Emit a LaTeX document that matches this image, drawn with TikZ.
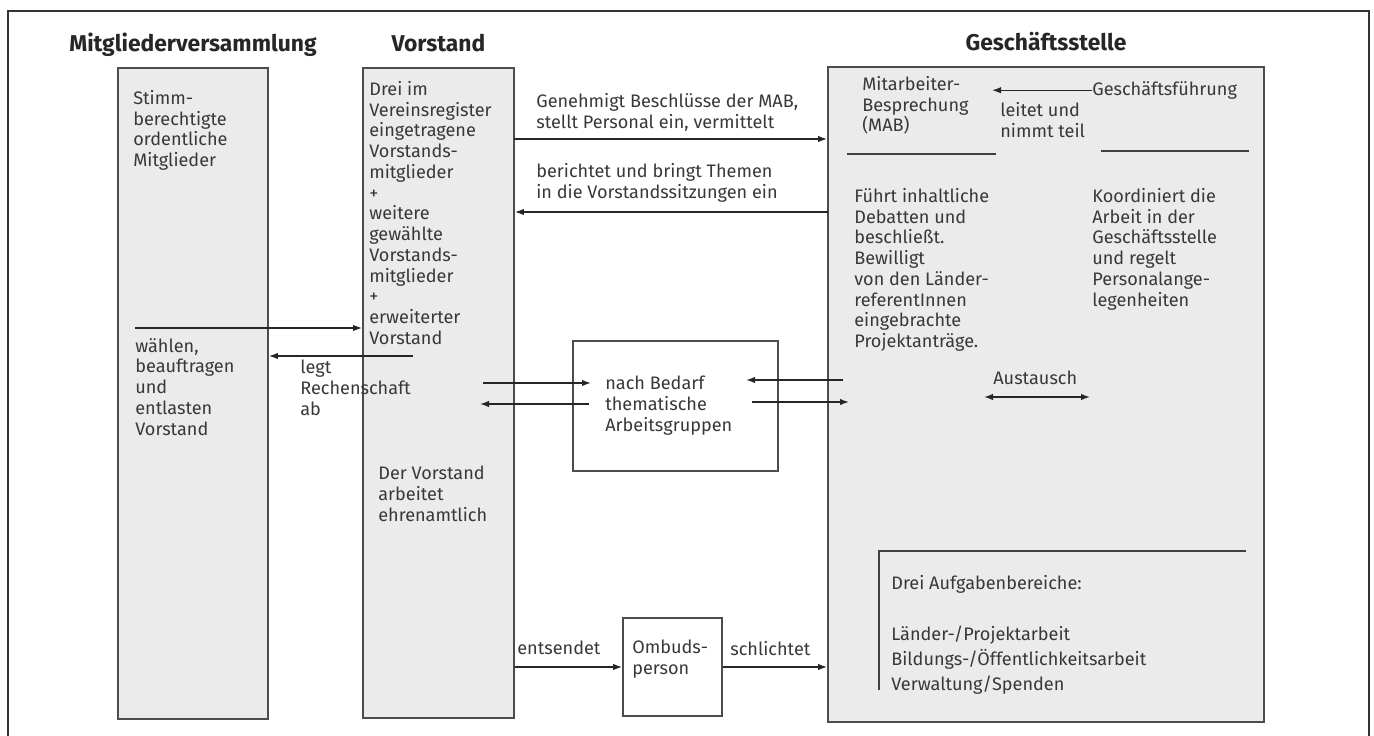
\documentclass[tikz,border=0pt]{standalone}
\usepackage{fontspec}
\setmainfont{Fira Sans}
\usetikzlibrary{arrows.meta, positioning, fit}

\begin{document}
\begin{tikzpicture}[
        x=0.02cm, y=-0.02cm,
        font=\fontsize{10.3}{11.8}\selectfont,
        text=black!78,
        col/.style={
            draw=black!70,
            fill=black!8,
            line width=1pt,
            inner sep=0pt
        },
        wbox/.style={col, fill=white},
        txt/.style={anchor=north west, align=left, inner sep=0pt},
        coltitle/.style={
            font=\fontsize{13}{15}\selectfont\bfseries,
            text=black!85,
            inner sep=0pt,
            text depth=0pt
        },
        arrow/.style={-{Latex[length=1.8mm, width=1.3mm]}, line width=0.8pt, draw=black!85},
        dblarrow/.style={arrow, {Latex[length=1.8mm, width=1.3mm]}-{Latex[length=1.8mm, width=1.3mm]}},
        sep/.style={line width=0.8pt, draw=black!75},
        frame/.style={line width=0.8pt, draw=black!80}
    ]

        \useasboundingbox (0,0) rectangle (1374,736);
        \draw[frame] (8,736) -- (8,11) -- (1369,11) -- (1369,736);

        % ---- Columns ----
        \node[col, fit={(118,68) (268,719)}] (mv) {};
        \node[col, fit={(363,68) (514,718)}] (vst) {};
        \node[col, fit={(828,67) (1264,722)}] (gst) {};
        \node[wbox, fit={(573,341) (778,471)}] (ag) {};
        \node[wbox, fit={(623,618) (722,716)}] (omb) {};

        \node[coltitle, above=3mm of mv] (tmv) {Mitgliederversammlung};
        \node[coltitle, above=3mm of vst] (tvst) {Vorstand};
        \node[coltitle, above=3mm of gst] (tgst) {Geschäftsstelle};

        % ---- Texts ----
        \node[txt] (mvtop) at (133,90) {Stimm-\\berechtigte\\ordentliche\\Mitglieder};
        \node[txt] (mvwahl) at (135,338) {wählen,\\beauftragen\\und\\entlasten\\Vorstand};
        \node[txt] (vsttop) at (369,81) {Drei im\\Vereinsregister\\eingetragene\\Vorstands-\\mitglieder\\+\\weitere\\gewählte\\Vorstands-\\mitglieder\\+\\erweiterter\\Vorstand};
        \node[txt] (vstehren) at (378,466) {Der Vorstand\\arbeitet\\ehrenamtlich};
        \node[txt] (agtext) at (605,376) {nach Bedarf\\thematische\\Arbeitsgruppen};
        \node[txt] (ombtext) at (632,640) {Ombuds-\\person};
        \node[txt] (mab) at (862,76) {Mitarbeiter-\\Besprechung\\(MAB)};
        \node[txt] (gf) at (1092,81) {Geschäftsführung};
        \node[txt] (mabtext) at (854,188) {Führt inhaltliche\\Debatten und\\beschließt.\\Bewilligt\\von den Länder-\\referentInnen\\eingebrachte\\Projektanträge.};
        \node[txt] (gftext) at (1092,188) {Koordiniert die\\Arbeit in der\\Geschäftsstelle\\und regelt\\Personalange-\\legenheiten};
        \node[txt] (aufg) at (891,575) {Drei Aufgabenbereiche:};
        \node[txt, font=\fontsize{10.3}{14.2}\selectfont] (bereiche) at (891,626) {Länder-/Projektarbeit\\Bildungs-/Öffentlichkeitsarbeit\\Verwaltung/Spenden};

        % ---- Arrows ----
        \coordinate (wahl) at (135,328);
        \draw[arrow] (wahl) -- (wahl -| vst.west);
        \coordinate (rech) at (413,356);
        \draw[arrow] (rech) -- (rech -| mv.east);
        \node[txt] (legt) at (300,360) {legt\\Rechenschaft\\ab};

        \coordinate (gen) at (514,139);
        \draw[arrow] (gen) -- (gen -| gst.west);
        \node[txt] (genl) at (536,93) {Genehmigt Beschlüsse der MAB,\\stellt Personal ein, vermittelt};
        \coordinate (ber) at (828,212);
        \draw[arrow] (ber) -- (ber -| vst.east);
        \node[txt] (berl) at (536,163) {berichtet und bringt Themen\\in die Vorstandssitzungen ein};

        \coordinate (va) at (483,383);
        \draw[arrow] (va) -- ++(108,0) coordinate (vaend);
        \coordinate (av) at (589,404);
        \draw[arrow] (av) -- ++(-109,0) coordinate (avend);
        \coordinate (ga) at (843,380);
        \draw[arrow] (ga) -- ++(-97,0) coordinate (gaend);
        \coordinate (ag2) at (752,402);
        \draw[arrow] (ag2) -- ++(97,0) coordinate (ag2end);

        \draw[arrow] (gf.west) -- ++(-100,0) coordinate (gfend);
        \node[txt] (leitet) at (1000,102) {leitet und\\nimmt teil};

        \coordinate (aus) at (984,397);
        \draw[dblarrow] (aus) -- ++(106,0) coordinate (ausend);
        \node[txt] (austausch) at (993,371) {Austausch};

        \draw[arrow] (omb.west -| vst.east) -- (omb.west);
        \node[txt] (ents) at (517,641) {entsendet};
        \draw[arrow] (omb.east) -- (omb.east -| gst.west);
        \node[txt] (schl) at (730,641) {schlichtet};

        % ---- Rules ----
        \draw[sep] (847,154) -- (996,154);
        \draw[sep] (1101,151) -- (1249,151);
        \draw[sep] (879,690) -- (879,551) -- (1246,551);

    \end{tikzpicture}
\end{document}
